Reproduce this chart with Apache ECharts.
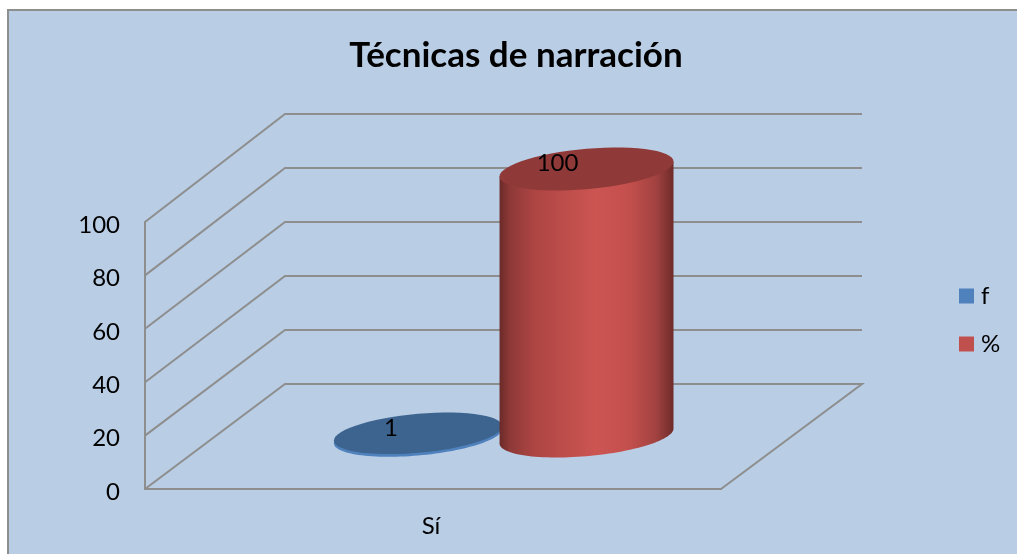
<!DOCTYPE html>
<html lang="es">
  <head>
    <meta charset="UTF-8" />
    <title>Técnicas de narración</title>
    <script src="https://cdn.jsdelivr.net/npm/echarts@6/dist/echarts.min.js"></script>
    <style>
      html, body { margin: 0; padding: 0; background: #fff; }
      #chart { width: 1017px; height: 554px; }
    </style>
  </head>
  <body>
    <div id="chart"></div>
    <script>
      var categories = ["Sí"];
      var fValues = [1];
      var pctValues = [100];
      var yTicks = [0, 20, 40, 60, 80, 100];

      var font = "Lato, 'Open Sans', sans-serif";
      var lineColor = "#8e8e8e";
      // desplazamiento de la pared del fondo
      var depthX = 140;
      var depthY = 105;
      var backStretch = 1.011;

      var myChart = echarts.init(document.getElementById("chart"));

      function backPoint(front, floorY) {
        return [front[0] + depthX, floorY - depthY - (floorY - front[1]) * backStretch];
      }

      // paredes y suelo
      function renderWalls(params, api) {
        var rect = params.coordSys;
        var v = api.value(0);
        var floorY = rect.y + rect.height;
        var front = [rect.x, api.coord([0, v])[1]];
        var back = backPoint(front, floorY);
        var points = [front, back, [rect.x + rect.width + depthX + 1, back[1]]];
        if (v === 0) {
          points.push([rect.x + rect.width, floorY]);
        }
        return {
          type: "polyline",
          shape: { points: points },
          style: { stroke: lineColor, lineWidth: 2, fill: null }
        };
      }

      function ellipsePoints(cx, cy, a, from, to) {
        var pts = [];
        for (var i = 0; i <= 60; i++) {
          var t = from + ((to - from) * i) / 60;
          pts.push([cx + a * Math.cos(t), cy - 0.086 * a * Math.cos(t) + 0.232 * a * Math.sin(t)]);
        }
        return pts;
      }

      function cylinder(params, api, opt) {
        var rect = params.coordSys;
        var base = api.coord([0, 0]);
        var top = api.coord([0, api.value(1)]);
        var cx = base[0] + depthX / 2 + opt.shift * rect.width;
        var a = opt.radius * rect.width;
        var by = base[1] - 53;
        var ty = top[1] - 53;
        var lower = ellipsePoints(cx, by, a, Math.PI, 0);
        var bodyPts = [[cx - a, ty + a * 0.086]].concat(lower).concat([[cx + a, ty - a * 0.086]]);
        return {
          type: "group",
          children: [
            {
              type: "polygon",
              shape: { points: bodyPts },
              style: { fill: opt.side }
            },
            {
              type: "polygon",
              shape: { points: ellipsePoints(cx, ty, a, 0, Math.PI * 2) },
              style: { fill: opt.cap }
            },
            {
              type: "text",
              style: {
                x: cx + opt.labelDx,
                y: ty + opt.labelDy,
                text: String(api.value(1)),
                font: "24px " + font,
                fill: "#000",
                align: "center",
                verticalAlign: "middle"
              }
            }
          ]
        };
      }

      var redSide = new echarts.graphic.LinearGradient(0, 0, 1, 0, [
        { offset: 0, color: "#6b2a29" },
        { offset: 0.06, color: "#8d3938" },
        { offset: 0.2, color: "#ad4543" },
        { offset: 0.55, color: "#cc5552" },
        { offset: 0.75, color: "#c34f4c" },
        { offset: 0.9, color: "#a14240" },
        { offset: 1, color: "#6e2b2a" }
      ]);

      var option = {
        animation: false,
        backgroundColor: "#fff",
        title: {
          text: "Técnicas de narración",
          left: 511,
          top: 33,
          textAlign: "center",
          textStyle: { fontFamily: font, fontWeight: "bold", fontSize: 35, color: "#000" }
        },
        graphic: [
          {
            type: "rect",
            z: -10,
            shape: { x: 8, y: 10, width: 1100, height: 700 },
            style: { fill: "#b9cde5", stroke: "#8e8e8e", lineWidth: 2 }
          }
        ],
        legend: {
          orient: "vertical",
          left: 959,
          top: 284,
          data: ["f", "%"],
          icon: "rect",
          itemWidth: 15,
          itemHeight: 15,
          itemGap: 24,
          textStyle: { fontFamily: font, fontSize: 24, color: "#000", padding: [0, 0, 0, 2] },
          padding: 0
        },
        grid: { left: 145, top: 222, width: 576, height: 267 },
        xAxis: {
          type: "category",
          data: categories,
          axisTick: { show: false },
          axisLine: { lineStyle: { color: lineColor, width: 2 } },
          axisLabel: { fontFamily: font, fontSize: 24, color: "#000", margin: 25, padding: [0, 4, 0, 0] }
        },
        yAxis: {
          type: "value",
          min: 0,
          max: 100,
          interval: 20,
          splitLine: { show: false },
          axisTick: { show: false },
          axisLine: { show: true, lineStyle: { color: lineColor, width: 2 } },
          axisLabel: {
            color: "#000",
            margin: 25,
            formatter: "{n|{value}}",
            rich: { n: { fontFamily: font, fontSize: 24, color: "#000", padding: [6, 0, 0, 0] } }
          }
        },
        series: [
          {
            type: "custom",
            name: "walls",
            silent: true,
            z: 1,
            data: yTicks,
            encode: { y: 0 },
            renderItem: renderWalls
          },
          {
            type: "custom",
            name: "f",
            z: 2,
            itemStyle: { color: "#4f81bd" },
            data: fValues.map(function(v, i) { return [i, v]; }),
            encode: { x: 0, y: 1 },
            renderItem: function(params, api) {
              return cylinder(params, api, {
                shift: -0.1475,
                radius: 0.146,
                side: "#4f81bd",
                cap: "#3d638f",
                labelDx: -27,
                labelDy: -5
              });
            }
          },
          {
            type: "custom",
            name: "%",
            z: 3,
            itemStyle: { color: "#c0504d" },
            data: pctValues.map(function(v, i) { return [i, v]; }),
            encode: { x: 0, y: 1 },
            renderItem: function(params, api) {
              return cylinder(params, api, {
                shift: 0.145,
                radius: 0.151,
                side: redSide,
                cap: "#8f3a38",
                labelDx: -29,
                labelDy: -6
              });
            }
          }
        ]
      };
      myChart.setOption(option);
    </script>
  </body>
</html>
